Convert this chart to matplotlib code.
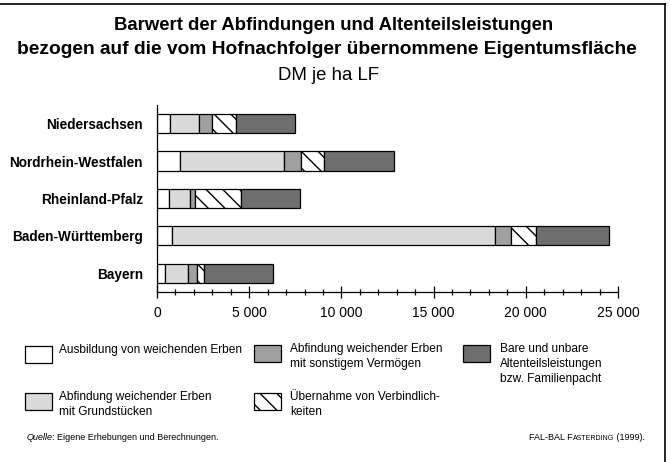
import matplotlib
matplotlib.use("Agg")
import matplotlib.pyplot as plt
from matplotlib.patches import Rectangle
from matplotlib.lines import Line2D
from matplotlib.ticker import MultipleLocator, FuncFormatter
import numpy as np

plt.rcParams['font.family'] = ['Liberation Sans', 'DejaVu Sans']
plt.rcParams['hatch.linewidth'] = 1.0

regions = ["Niedersachsen", "Nordrhein-Westfalen", "Rheinland-Pfalz",
           "Baden-Württemberg", "Bayern"]
ausbildung = [723, 1265, 651, 813, 434]
abf_grund = [1536, 5620, 1138, 17492, 1265]
abf_sonst = [723, 940, 289, 903, 469]
verbindlich = [1283, 1210, 2476, 1356, 380]
altenteil = [3198, 3831, 3216, 3957, 3758]

series = [ausbildung, abf_grund, abf_sonst, verbindlich, altenteil]
legend_labels = ["Ausbildung von weichenden Erben",
                 "Abfindung weichender Erben\nmit Grundstücken",
                 "Abfindung weichender Erben\nmit sonstigem Vermögen",
                 "Übernahme von Verbindlich-\nkeiten",
                 "Bare und unbare\nAltenteilsleistungen\nbzw. Familienpacht"]
colors = ["#ffffff", "#dadada", "#a0a0a0", "#ffffff", "#6e6e6e"]
hatches = [None, None, None, "\\\\", None]

W, H = 671, 462
fig = plt.figure(figsize=(W / 100, H / 100), dpi=100)

def fx(x):
    return x / W

def fy(y):
    return 1 - y / H

ax = fig.add_axes([fx(157), fy(291.7), fx(618) - fx(157), fy(105) - fy(291.7)])

ypos = np.arange(len(regions))[::-1]
left = np.zeros(len(regions))
for vals, c, h in zip(series, colors, hatches):
    ax.barh(ypos, vals, left=left, height=0.51, color=c, edgecolor="black",
            linewidth=0.9, hatch=h)
    left += np.array(vals)

ax.set_xlim(0, 25000)
ax.set_ylim(-0.5, 4.5)
ax.set_yticks(ypos)
ax.set_yticklabels(regions, fontweight="bold", fontsize=9.8)
ax.tick_params(axis="y", length=0, pad=10)
ax.xaxis.set_major_locator(MultipleLocator(5000))
ax.xaxis.set_minor_locator(MultipleLocator(1000))
ax.xaxis.set_major_formatter(FuncFormatter(lambda v, p: f"{int(v):,}".replace(",", " ")))
ax.tick_params(axis="x", which="major", direction="inout", length=8, width=0.9,
               labelsize=10, pad=6)
ax.tick_params(axis="x", which="minor", direction="inout", length=4, width=0.9)
for s in ["top", "right"]:
    ax.spines[s].set_visible(False)
for s in ["left", "bottom"]:
    ax.spines[s].set_linewidth(0.9)

# Titles
fig.text(fx(334), fy(25), "Barwert der Abfindungen und Altenteilsleistungen",
         ha="center", va="center", fontsize=13.3, fontweight="bold")
fig.text(fx(327), fy(50), "bezogen auf die vom Hofnachfolger übernommene Eigentumsfläche",
         ha="center", va="center", fontsize=13.8, fontweight="bold")
fig.text(fx(328.5), fy(76), "DM je ha LF", ha="center", va="center", fontsize=13.4)

# Legend
legend_pos = [(25, 346), (25, 393), (254, 345), (254, 393), (463, 345)]
text_x = [59, 59, 290, 290, 500]
for (bx, by), tx, lab, c, h in zip(legend_pos, text_x, legend_labels, colors, hatches):
    r = Rectangle((fx(bx), fy(by + 17)), fx(27), 17 / H, transform=fig.transFigure,
                  facecolor=c, edgecolor="black", linewidth=0.9, hatch=h)
    fig.add_artist(r)
    fig.text(fx(tx), fy(by - 2), lab, ha="left", va="top", fontsize=8.6,
             linespacing=1.35)

# Footer
fig.text(fx(27), fy(438), "Quelle", ha="left", va="center", fontsize=6.5, style="italic")
fig.canvas.draw()
r = fig.canvas.get_renderer()
t0 = fig.texts[-1]
bb = t0.get_window_extent(r)
fig.text((bb.x1 - 1.5) / W, fy(438), ": Eigene Erhebungen und Berechnungen.", ha="left",
         va="center", fontsize=6.5)

# right-aligned small caps source
pieces = [(" (1999).", 6.5), ("ASTERDING", 5.0), ("FAL-BAL F", 6.5)]
xr = 645
for txt, fs in pieces:
    t = fig.text(fx(xr), fy(438), txt, ha="right", va="center", fontsize=fs)
    fig.canvas.draw()
    bb = t.get_window_extent(fig.canvas.get_renderer())
    xr = bb.x0

# Frame lines
fig.add_artist(Line2D([0, fx(665)], [fy(4), fy(4)], transform=fig.transFigure,
                      color="black", linewidth=1.2))
fig.add_artist(Line2D([fx(665), fx(665)], [fy(4), 0], transform=fig.transFigure,
                      color="black", linewidth=1.2))

fig.savefig("out.png", dpi=100)
